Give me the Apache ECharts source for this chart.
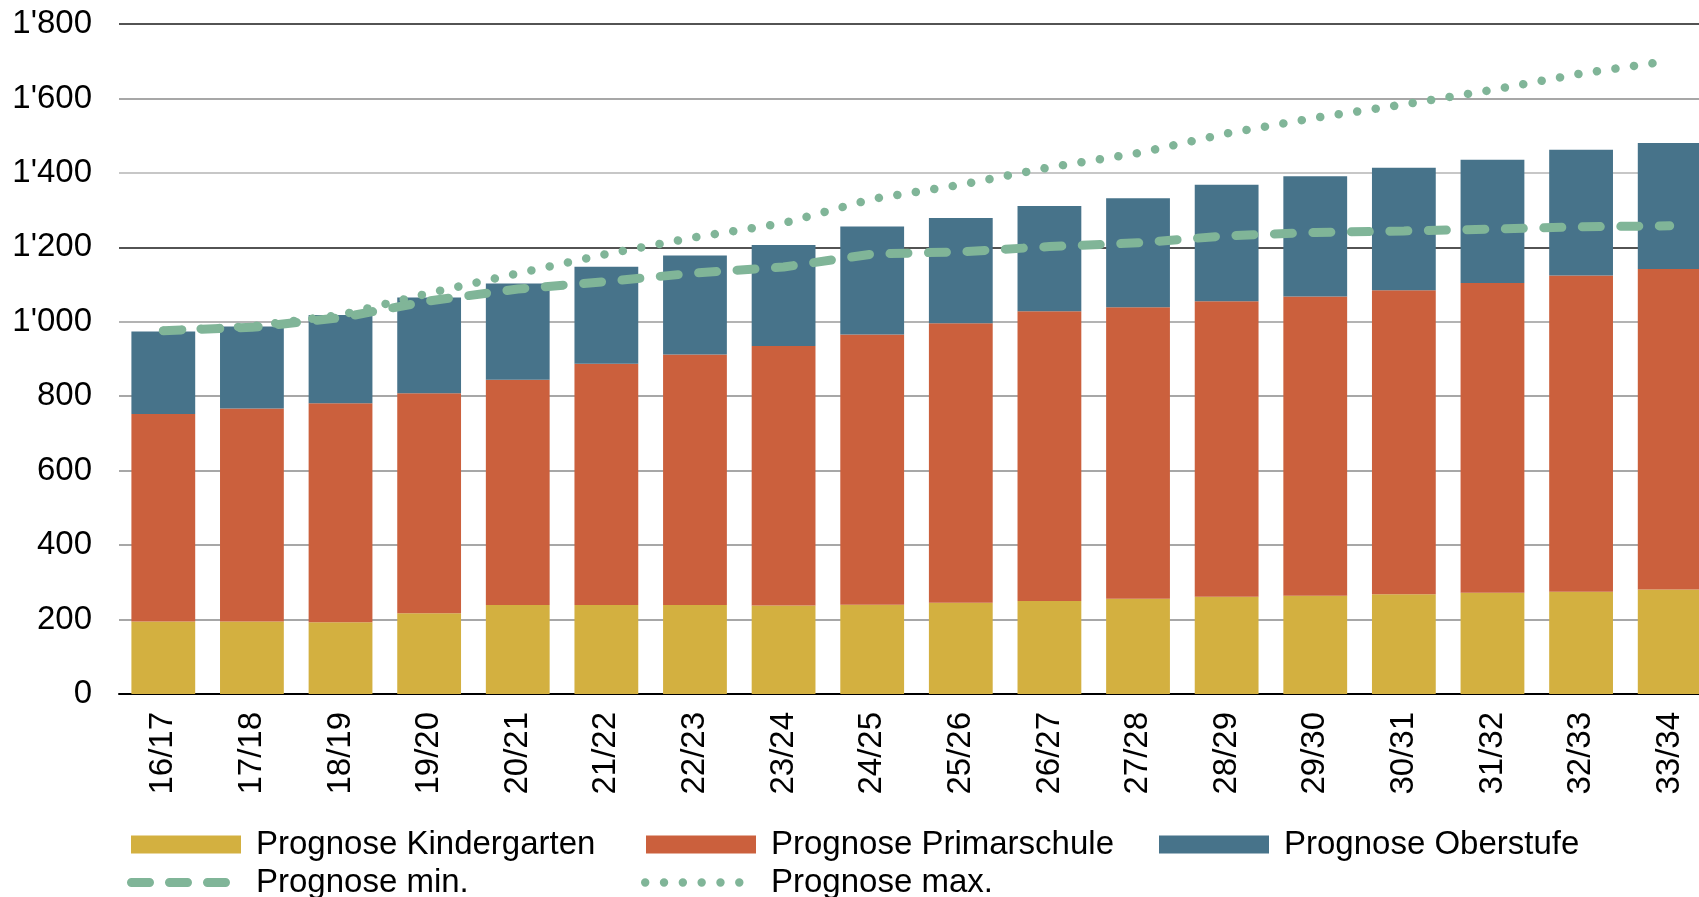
<!DOCTYPE html>
<html>
<head>
<meta charset="utf-8">
<script src="https://cdn.jsdelivr.net/npm/echarts@6/dist/echarts.min.js"></script>
<style>
html,body{margin:0;padding:0;background:#fff;overflow:hidden;width:1699px;height:897px;}
#chart{width:1715px;height:897px;}
</style>
</head>
<body>
<div id="chart"></div>
<script>
const categories = ['16/17','17/18','18/19','19/20','20/21','21/22','22/23','23/24','24/25','25/26','26/27','27/28','28/29','29/30','30/31','31/32','32/33','33/34'];
const kindergarten = [195,195,193,217,239,239,239,238,240,245,250,256,261,264,268,272,275,281];
const primarschule = [557,572,588,591,605,648,673,697,726,751,778,783,794,804,817,832,849,861];
const oberstufe = [222,220,237,257,259,261,266,271,290,283,283,293,313,323,329,331,338,338];
const prognoseMin = [976,985,1011,1056,1088,1108,1131,1147,1182,1188,1202,1212,1231,1240,1244,1249,1255,1258];
const prognoseMax = [976,988,1018,1077,1130,1182,1227,1265,1330,1368,1415,1453,1506,1548,1584,1623,1667,1701];
const yTicks = [0,200,400,600,800,1000,1200,1400,1600,1800];

const seriesNames = ['Prognose Kindergarten','Prognose Primarschule','Prognose Oberstufe','Prognose min.','Prognose max.'];
const colors = ['#D3B040','#CB603D','#47738A','#80B598','#80B598'];

const FONT = 'Liberation Sans, Arial, sans-serif';
const FS = 33;

function fmt(v){
  if (v >= 1000) return Math.floor(v/1000) + "'" + String(v % 1000).padStart(3,'0');
  return String(v);
}

// legend icon shapes (dashes with round caps, dots)
function dashIcon(){
  let p = '';
  const h = 9, r = 4.5, len = 27, step = 38;
  for (let i = 0; i < 3; i++) {
    const x0 = i*step;
    p += 'M'+(x0+r)+' 0 H'+(x0+len-r)+' A'+r+' '+r+' 0 0 1 '+(x0+len-r)+' '+h+' H'+(x0+r)+' A'+r+' '+r+' 0 0 1 '+(x0+r)+' 0 Z ';
  }
  return 'path://' + p;
}
function dotIcon(){
  let p = '';
  const r = 4.25, step = 19;
  for (let i = 0; i < 6; i++) {
    const cx = r + i*step;
    p += 'M'+(cx-r)+' '+r+' A'+r+' '+r+' 0 1 0 '+(cx+r)+' '+r+' A'+r+' '+r+' 0 1 0 '+(cx-r)+' '+r+' Z ';
  }
  return 'path://' + p;
}

const chart = echarts.init(document.getElementById('chart'), null, {renderer:'canvas'});

function legendItem(name, left, top, w, h, icon, padLeft){
  return {
    show: true,
    data: [{name: name, icon: icon}],
    left: left, top: top,
    padding: 0,
    itemWidth: w, itemHeight: h,
    selectedMode: false,
    textStyle: {fontFamily: FONT, fontSize: FS, color: '#000', padding: [0,0,0,padLeft]}
  };
}

const option = {
  animation: false,
  backgroundColor: '#fff',
  color: colors,
  grid: {left: 119, right: 1, top: 24, bottom: 203, containLabel: false},
  legend: [
    legendItem(seriesNames[0], 131, 828, 110, 18, 'rect', 10),
    legendItem(seriesNames[1], 646, 828, 110, 18, 'rect', 10),
    legendItem(seriesNames[2], 1159, 828, 110, 18, 'rect', 10),
    legendItem(seriesNames[3], 127, 866, 103, 9, dashIcon(), 21),
    legendItem(seriesNames[4], 641, 866, 102.5, 8.5, dotIcon(), 22.5)
  ],
  xAxis: {
    type: 'category',
    data: categories,
    axisLine: {show: true, lineStyle: {color: '#000', width: 2}},
    axisTick: {show: false},
    axisLabel: {rotate: 90, margin: 18, fontFamily: FONT, fontSize: FS, color: '#000', interval: 0}
  },
  yAxis: {
    type: 'value',
    min: yTicks[0], max: yTicks[yTicks.length-1], interval: 200,
    axisLine: {show: false},
    axisTick: {show: false},
    axisLabel: {margin: 27, fontFamily: FONT, fontSize: FS, color: '#000', formatter: fmt},
    splitLine: {show: true, lineStyle: {width: 1.5, color: ['#000','#8a8a8a','#8a8a8a','#8a8a8a','#8a8a8a','#9a9a9a','#1a1a1a','#b4b4b4','#8a8a8a','#1a1a1a']}}
  },
  series: [
    {name: seriesNames[0], type: 'bar', stack: 'total', data: kindergarten, barWidth: '72%', itemStyle: {color: colors[0]}},
    {name: seriesNames[1], type: 'bar', stack: 'total', data: primarschule, barWidth: '72%', itemStyle: {color: colors[1]}},
    {name: seriesNames[2], type: 'bar', stack: 'total', data: oberstufe, barWidth: '72%', itemStyle: {color: colors[2]}},
    {name: seriesNames[3], type: 'line', data: prognoseMin, symbol: 'none', z: 5,
      itemStyle: {color: colors[3]},
      lineStyle: {color: colors[3], width: 9, type: [18, 20.5], cap: 'round'}},
    {name: seriesNames[4], type: 'line', data: prognoseMax, symbol: 'none', z: 5,
      itemStyle: {color: colors[4]},
      lineStyle: {color: colors[4], width: 8.5, type: [0.1, 18.6], cap: 'round'}}
  ]
};
chart.setOption(option);
</script>
</body>
</html>
